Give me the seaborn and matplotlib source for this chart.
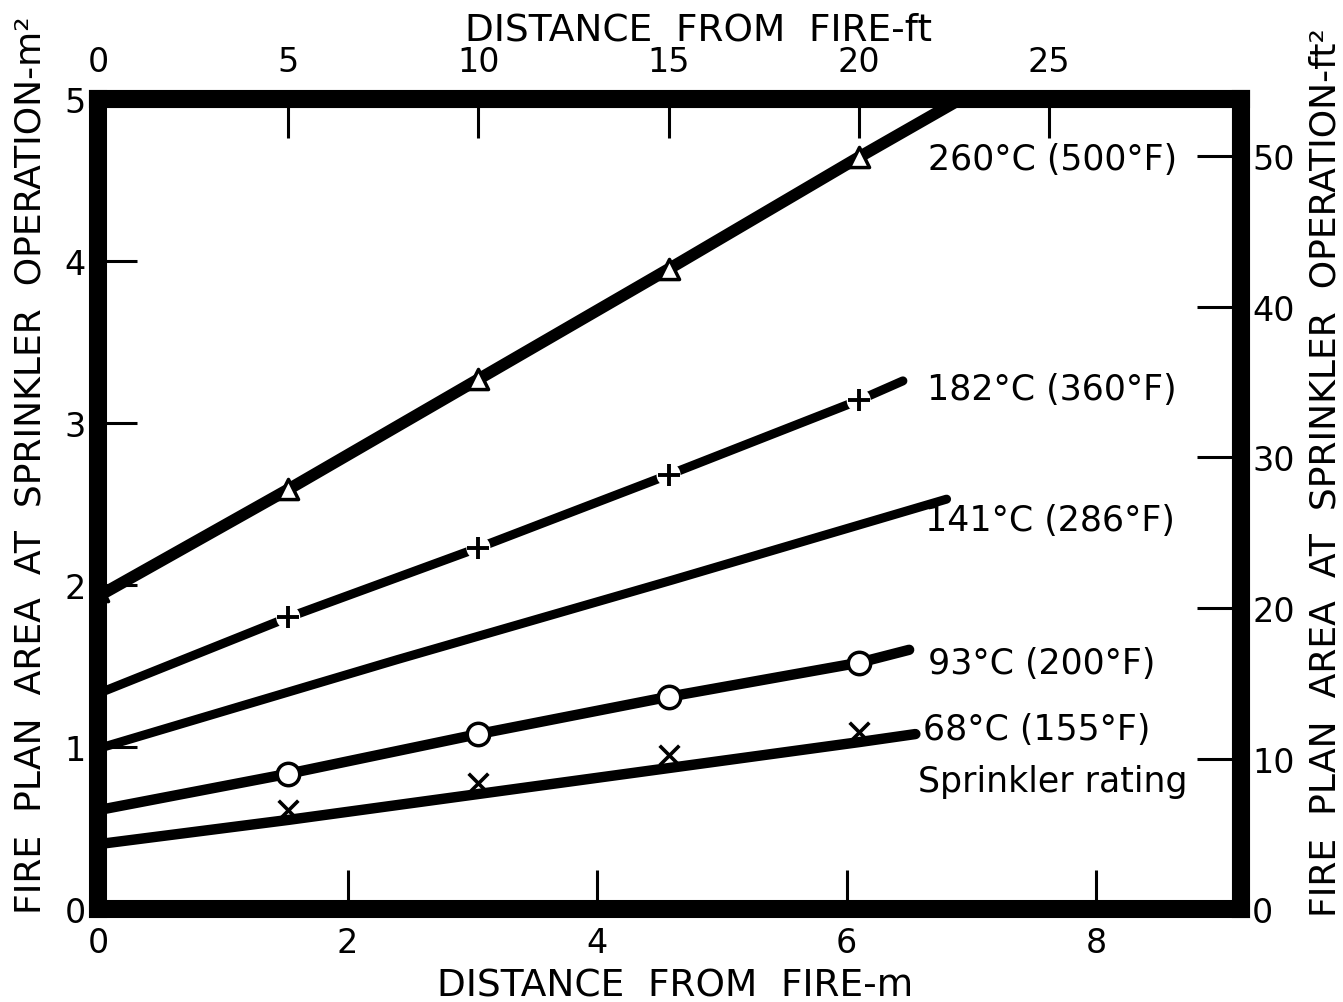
import matplotlib
matplotlib.use("Agg")
import matplotlib.pyplot as plt
import seaborn as sns

sns.set_theme(style="ticks")
plt.rcParams['font.family'] = ['DejaVu Sans']

# ---------------- data (distance in m, area in m^2) ----------------
x_260 = [0, 1.524, 3.048, 4.572, 6.096, 7.05]
y_260 = [1.93, 2.59, 3.27, 3.95, 4.64, 5.06]
mx_260 = [0, 1.524, 3.048, 4.572, 6.096]
my_260 = [1.96, 2.59, 3.27, 3.95, 4.64]

x_182 = [0, 1.524, 3.048, 4.572, 6.096, 6.45]
y_182 = [1.33, 1.80, 2.23, 2.68, 3.14, 3.26]
mx_182 = [1.524, 3.048, 4.572, 6.096]
my_182 = [1.80, 2.23, 2.68, 3.14]

x_141 = [0, 2.4, 4.6, 6.8]
y_141 = [0.99, 1.54, 2.03, 2.53]

x_93 = [0, 1.524, 3.048, 4.572, 6.096, 6.5]
y_93 = [0.61, 0.835, 1.08, 1.31, 1.52, 1.60]
mx_93 = [1.524, 3.048, 4.572, 6.096]
my_93 = [0.835, 1.08, 1.31, 1.52]

x_68 = [0, 1.524, 3.048, 4.572, 6.096, 6.55]
y_68 = [0.40, 0.55, 0.71, 0.87, 1.03, 1.08]
mx_68 = [1.524, 3.048, 4.572, 6.096]
my_68 = [0.61, 0.78, 0.95, 1.09]

labels = ["260°C (500°F)", "182°C (360°F)", "141°C (286°F)",
          "93°C (200°F)", "68°C (155°F)", "Sprinkler rating"]
label_x = [6.65, 6.64, 6.63, 6.65, 6.61, 6.57]
label_y = [4.63, 3.21, 2.40, 1.52, 1.11, 0.79]

xticks_m = [0, 2, 4, 6, 8]
yticks_m2 = [0, 1, 2, 3, 4, 5]
xticks_ft = [0, 5, 10, 15, 20, 25]
yticks_ft2 = [0, 10, 20, 30, 40, 50]

# ---------------- figure ----------------
fig = plt.figure(figsize=(13.43, 10.03), dpi=100)
ax = fig.add_axes([0.0730, 0.0927, 0.8511, 0.8076])
ax.set_facecolor("white")

line_kw = dict(color="black", sort=False, estimator=None, ax=ax,
               solid_capstyle="round", legend=False)
sns.lineplot(x=x_260, y=y_260, linewidth=8.5, zorder=3, **line_kw)
sns.lineplot(x=x_182, y=y_182, linewidth=6.5, zorder=3, **line_kw)
sns.lineplot(x=x_141, y=y_141, linewidth=6.5, zorder=3, **line_kw)
sns.lineplot(x=x_93, y=y_93, linewidth=7.5, zorder=3, **line_kw)
sns.lineplot(x=x_68, y=y_68, linewidth=7.5, zorder=3, **line_kw)

# markers
sns.scatterplot(x=mx_260, y=my_260, marker="^", s=210, color="white",
                edgecolor="black", linewidth=2.5, zorder=5, ax=ax, legend=False)
# white gaps around the + markers
sns.scatterplot(x=mx_182, y=my_182, marker="o", s=300, color="white",
                edgecolor="none", linewidth=0, zorder=4, ax=ax, legend=False)
sns.scatterplot(x=mx_182, y=my_182, marker="+", s=230, color="black",
                linewidth=2.8, zorder=5, ax=ax, legend=False)
sns.scatterplot(x=mx_93, y=my_93, marker="o", s=260, color="white",
                edgecolor="black", linewidth=2.5, zorder=5, ax=ax, legend=False)
sns.scatterplot(x=mx_68, y=my_68, marker="x", s=200, color="black",
                linewidth=2.6, zorder=5, ax=ax, legend=False)

for t, lx, ly in zip(labels, label_x, label_y):
    ax.text(lx, ly, t, fontsize=25, ha="left", va="center", color="black", zorder=6)

ax.set_xlim(0, 9.16)
ax.set_ylim(0, 5)
ax.set_xticks(xticks_m)
ax.set_yticks(yticks_m2)

for s in ax.spines.values():
    s.set_visible(True)
    s.set_linewidth(13)
    s.set_color("black")
    s.set_zorder(10)

ax.tick_params(axis="both", direction="in", length=28, width=2.2, color="black",
               labelsize=24, labelcolor="black", bottom=True, left=True,
               top=False, right=False)
ax.tick_params(axis="x", pad=12)
ax.tick_params(axis="y", pad=9)

ax.set_xlabel("DISTANCE  FROM  FIRE-m", fontsize=27, color="black")
ax.xaxis.set_label_coords(0.505, -0.072)
ax.set_ylabel("FIRE  PLAN  AREA  AT  SPRINKLER  OPERATION-m²", fontsize=26, color="black")
ax.yaxis.set_label_coords(-0.044, 0.549)

# secondary axes (ft, ft^2)
secx = ax.secondary_xaxis("top", functions=(lambda m: m / 0.3048, lambda f: f * 0.3048))
secx.set_xticks(xticks_ft)
secx.tick_params(direction="in", length=28, width=2.2, color="black", labelsize=24,
                 labelcolor="black", pad=15, top=True)
secx.spines["top"].set_linewidth(13)
secx.set_xlabel("DISTANCE  FROM  FIRE-ft", fontsize=27, color="black")
secx.xaxis.set_label_coords(0.525, 1.074, transform=ax.transAxes)

secy = ax.secondary_yaxis("right", functions=(lambda a: a * 10.7639, lambda b: b / 10.7639))
secy.set_yticks(yticks_ft2)
secy.tick_params(direction="in", length=32, width=2.2, color="black", labelsize=24,
                 labelcolor="black", pad=8, right=True)
secy.spines["right"].set_linewidth(13)
secy.set_ylabel("FIRE  PLAN  AREA  AT  SPRINKLER  OPERATION-ft²", fontsize=26, color="black")
secy.yaxis.set_label_coords(1.0586, 0.54, transform=ax.transAxes)

fig.savefig("out.png", dpi=100)
